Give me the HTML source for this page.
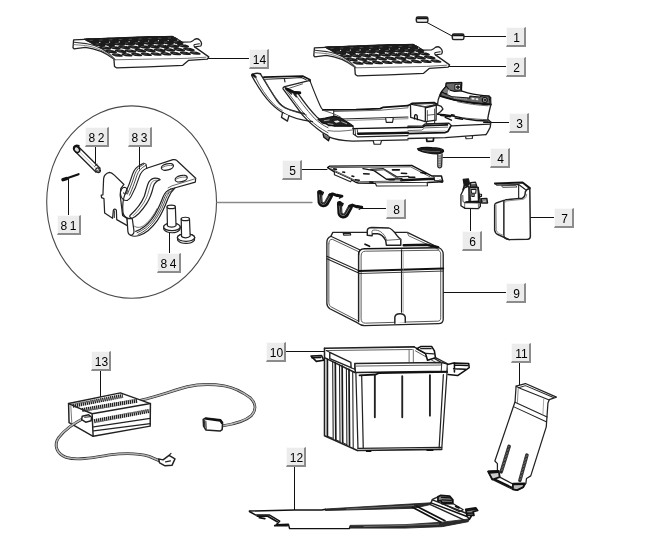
<!DOCTYPE html><html><head><meta charset="utf-8"><title>Parts diagram</title><style>

html,body{margin:0;padding:0;background:#fff}
#c{position:relative;width:645px;height:551px;overflow:hidden;background:#fff;font-family:"Liberation Sans",sans-serif}
svg{position:absolute;left:0;top:0}
.l{position:absolute;box-sizing:border-box;height:20px;background:#ececec;border-top:1px solid #fafafa;border-left:1px solid #fafafa;border-right:2px solid #8c8c8c;border-bottom:2px solid #8c8c8c;font-size:12px;line-height:21px;text-align:center;color:#000;padding-left:2px;will-change:transform}
.w{letter-spacing:2.4px;text-indent:2.4px;padding-left:0}

</style></head><body><div id="c">
<svg width="645" height="551" viewBox="0 0 645 551" fill="none" stroke="#2a2a2a" stroke-width="1" stroke-linecap="round" stroke-linejoin="round">
<g id="leaders" stroke="#111" stroke-width="1">
<ellipse cx="131.6" cy="202.1" rx="84.9" ry="96.2" stroke="#4a4a4a" stroke-width="1.1"/>
<path d="M217 202.5H312" stroke="#8a8a8a" stroke-width="1.3"/>
<path d="M427 22.5L452 36"/>
<path d="M464 36.5H506"/>
<path d="M449 66.5H506"/>
<path d="M485 122.5H509"/>
<path d="M443 157.5H490"/>
<path d="M302 169.5H327"/>
<path d="M470.5 207V231"/>
<path d="M529 217.5H554"/>
<path d="M361 208.5H386"/>
<path d="M443 292.5H506"/>
<path d="M286 351.5H326"/>
<path d="M519.5 363V385"/>
<path d="M294.5 467V510"/>
<path d="M100.5 371V397"/>
<path d="M208 58.5H249"/>
<path d="M68.5 179V215"/>
<path d="M95.5 147V164"/>
<path d="M139.5 147V169"/>
<path d="M169.5 226V253"/>
</g>
<defs><g id="grille">
<path d="M73.6 39.9 L73 47.8 L74 48.8 L85.4 47.4 C96 48.6 106 53 113.9 59.1 L114.5 66.4 L116.4 67.8 L148 66.8 L182.8 65.3 L188.4 60.4 L207.4 59.1 L208.8 56.9 L194.6 46.9 C197 46.6 199.8 46.4 200.8 46 C201.8 44.5 201.6 42 199.6 39.9 C198 38.6 196 38.6 194.6 39.4 C193.4 40.6 192 41.6 190.6 41.8 L182 42.2 C178 39.6 175 37.6 172.2 36.6 L148 36.6 Z" fill="#fff" stroke="#222" stroke-width="1.30"/>
<path d="M74.2 42.2 L86 43.6 C97 45.4 107 50 115 59.6" stroke="#333" stroke-width="1.06"/>
<path d="M74 44.6 L85.6 45.6 C96 47 106 51.6 114.2 59.4" stroke="#666" stroke-width="0.83"/>
<path d="M115 59.8 L186 58.4 L206 57.2" stroke="#555" stroke-width="0.83"/>
<path d="M194.6 46.9 C193.6 45.8 193.6 45 194.8 44.6 L199.4 43.8" stroke="#222" stroke-width="1.06"/>
<path d="M84.5 39.0 L172.5 36.4 L182.6 42.5 L94.7 44.9 Z" fill="#1c1c1c" stroke="#1c1c1c" stroke-width="1.18"/>
<g fill="#1c1c1c" stroke="none"><circle r="1" transform="matrix(6.36 -0.19 4.03 2.34 92.5 40.7)"/><circle r="1" transform="matrix(6.36 -0.19 4.03 2.34 102.3 40.4)"/><circle r="1" transform="matrix(6.36 -0.19 4.03 2.34 112.0 40.1)"/><circle r="1" transform="matrix(6.36 -0.19 4.03 2.34 121.8 39.8)"/><circle r="1" transform="matrix(6.36 -0.19 4.03 2.34 131.6 39.5)"/><circle r="1" transform="matrix(6.36 -0.19 4.03 2.34 141.3 39.2)"/><circle r="1" transform="matrix(6.36 -0.19 4.03 2.34 151.1 39.0)"/><circle r="1" transform="matrix(6.36 -0.19 4.03 2.34 160.9 38.7)"/><circle r="1" transform="matrix(6.36 -0.19 4.03 2.34 170.7 38.4)"/><circle r="1" transform="matrix(5.87 -0.17 3.72 2.16 98.7 44.3)"/><circle r="1" transform="matrix(5.87 -0.17 3.72 2.16 108.4 44.0)"/><circle r="1" transform="matrix(5.87 -0.17 3.72 2.16 118.2 43.7)"/><circle r="1" transform="matrix(5.87 -0.17 3.72 2.16 128.0 43.4)"/><circle r="1" transform="matrix(5.87 -0.17 3.72 2.16 137.7 43.2)"/><circle r="1" transform="matrix(5.87 -0.17 3.72 2.16 147.5 42.9)"/><circle r="1" transform="matrix(5.87 -0.17 3.72 2.16 157.2 42.6)"/><circle r="1" transform="matrix(5.87 -0.17 3.72 2.16 167.0 42.3)"/><circle r="1" transform="matrix(5.87 -0.17 3.72 2.16 176.8 42.1)"/><circle r="1" transform="matrix(5.28 -0.16 3.35 1.94 104.9 47.9)"/><circle r="1" transform="matrix(5.28 -0.16 3.35 1.94 114.6 47.6)"/><circle r="1" transform="matrix(5.28 -0.16 3.35 1.94 124.4 47.3)"/><circle r="1" transform="matrix(5.28 -0.16 3.35 1.94 134.1 47.1)"/><circle r="1" transform="matrix(5.28 -0.16 3.35 1.94 143.9 46.8)"/><circle r="1" transform="matrix(5.28 -0.16 3.35 1.94 153.6 46.5)"/><circle r="1" transform="matrix(5.28 -0.16 3.35 1.94 163.4 46.3)"/><circle r="1" transform="matrix(5.28 -0.16 3.35 1.94 173.1 46.0)"/><circle r="1" transform="matrix(5.28 -0.16 3.35 1.94 182.9 45.7)"/><circle r="1" transform="matrix(4.99 -0.15 3.16 1.84 111.1 51.5)"/><circle r="1" transform="matrix(4.99 -0.15 3.16 1.84 120.8 51.2)"/><circle r="1" transform="matrix(4.99 -0.15 3.16 1.84 130.5 51.0)"/><circle r="1" transform="matrix(4.99 -0.15 3.16 1.84 140.3 50.7)"/><circle r="1" transform="matrix(4.99 -0.15 3.16 1.84 150.0 50.4)"/><circle r="1" transform="matrix(4.99 -0.15 3.16 1.84 159.8 50.2)"/><circle r="1" transform="matrix(4.99 -0.15 3.16 1.84 169.5 49.9)"/><circle r="1" transform="matrix(4.99 -0.15 3.16 1.84 179.2 49.7)"/><circle r="1" transform="matrix(4.99 -0.15 3.16 1.84 189.0 49.4)"/><circle r="1" transform="matrix(4.79 -0.14 3.04 1.76 117.3 55.1)"/><circle r="1" transform="matrix(4.79 -0.14 3.04 1.76 127.0 54.8)"/><circle r="1" transform="matrix(4.79 -0.14 3.04 1.76 136.7 54.6)"/><circle r="1" transform="matrix(4.79 -0.14 3.04 1.76 146.4 54.3)"/><circle r="1" transform="matrix(4.79 -0.14 3.04 1.76 156.2 54.1)"/><circle r="1" transform="matrix(4.79 -0.14 3.04 1.76 165.9 53.8)"/><circle r="1" transform="matrix(4.79 -0.14 3.04 1.76 175.6 53.6)"/><circle r="1" transform="matrix(4.79 -0.14 3.04 1.76 185.4 53.3)"/><circle r="1" transform="matrix(4.79 -0.14 3.04 1.76 195.1 53.1)"/></g>
<g fill="#eee" stroke="none"><circle cx="99.8" cy="42.4" r="0.60"/><circle cx="109.6" cy="42.1" r="0.60"/><circle cx="119.3" cy="41.9" r="0.60"/><circle cx="129.1" cy="41.6" r="0.60"/><circle cx="138.9" cy="41.3" r="0.60"/><circle cx="148.6" cy="41.0" r="0.60"/><circle cx="158.4" cy="40.7" r="0.60"/><circle cx="168.2" cy="40.5" r="0.60"/><circle cx="177.9" cy="40.2" r="0.60"/><circle cx="106.0" cy="46.0" r="0.75"/><circle cx="115.8" cy="45.8" r="0.75"/><circle cx="125.5" cy="45.5" r="0.75"/><circle cx="135.3" cy="45.2" r="0.75"/><circle cx="145.0" cy="44.9" r="0.75"/><circle cx="154.8" cy="44.7" r="0.75"/><circle cx="164.5" cy="44.4" r="0.75"/><circle cx="174.3" cy="44.1" r="0.75"/><circle cx="184.0" cy="43.9" r="0.75"/></g>
<path d="M90.0 40.4 l2.4 -0.1 M99.8 40.1 l2.4 -0.1 M109.6 39.8 l2.4 -0.1 M119.3 39.5 l2.4 -0.1 M129.1 39.3 l2.4 -0.1 M138.9 39.0 l2.4 -0.1 M148.6 38.7 l2.4 -0.1 M158.4 38.4 l2.4 -0.1 M168.2 38.1 l2.4 -0.1 M96.2 44.0 l2.4 -0.1 M106.0 43.7 l2.4 -0.1 M115.7 43.4 l2.4 -0.1 M125.5 43.2 l2.4 -0.1 M135.3 42.9 l2.4 -0.1 M145.0 42.6 l2.4 -0.1 M154.8 42.3 l2.4 -0.1 M164.5 42.1 l2.4 -0.1 M174.3 41.8 l2.4 -0.1 M102.4 47.6 l2.4 -0.1 M112.2 47.3 l2.4 -0.1 M121.9 47.1 l2.4 -0.1 M131.7 46.8 l2.4 -0.1 M141.4 46.5 l2.4 -0.1 M151.2 46.3 l2.4 -0.1 M160.9 46.0 l2.4 -0.1 M170.7 45.7 l2.4 -0.1 M180.4 45.5 l2.4 -0.1 M108.6 51.2 l2.4 -0.1 M118.3 50.9 l2.4 -0.1 M128.1 50.7 l2.4 -0.1 M137.8 50.4 l2.4 -0.1 M147.6 50.2 l2.4 -0.1 M157.3 49.9 l2.4 -0.1 M167.0 49.7 l2.4 -0.1 M176.8 49.4 l2.4 -0.1 M186.5 49.1 l2.4 -0.1 M114.8 54.8 l2.4 -0.1 M124.5 54.6 l2.4 -0.1 M134.2 54.3 l2.4 -0.1 M144.0 54.1 l2.4 -0.1 M153.7 53.8 l2.4 -0.1 M163.4 53.6 l2.4 -0.1 M173.2 53.3 l2.4 -0.1 M182.9 53.1 l2.4 -0.1 M192.6 52.8 l2.4 -0.1" stroke="#555" stroke-width="0.83"/>
</g></defs>
<use href="#grille"/>
<use href="#grille" transform="translate(240.8 8)"/><g id="p1" stroke="#222">
<rect x="416.3" y="17" width="11.6" height="5.4" rx="1.6" fill="#bdbdbd" stroke-width="1.42"/>
<path d="M417.5 18.2H427" stroke="#111" stroke-width="1.65"/>
<path d="M418 20.6H426.5" stroke="#f4f4f4" stroke-width="1.42"/>
<rect x="452.3" y="34" width="11.6" height="5.6" rx="1.6" fill="#bdbdbd" stroke-width="1.42"/>
<path d="M453.5 35.2H463" stroke="#111" stroke-width="1.65"/>
<path d="M454 37.8H462.5" stroke="#f4f4f4" stroke-width="1.42"/>
</g>
<g id="p3a" transform="translate(248 68) scale(0.124031)" stroke="#222" stroke-width="9.44" fill="none">
<!-- far arm -->
<path d="M30 58 C50 40 80 40 100 46" stroke-width="11.80"/>
<path d="M36 52 L60 72" stroke-width="18.88" stroke="#111"/>
<path d="M30 62 C70 135 125 225 185 285 C215 315 250 345 285 362" stroke-width="10.62"/>
<path d="M58 70 C95 150 150 235 210 295 C235 318 255 333 275 342" stroke-width="7.08" stroke="#444"/>
<path d="M100 48 C135 105 175 175 230 258 C255 292 285 318 320 330 C350 340 380 350 405 356" stroke-width="10.62"/>
<path d="M122 72 C155 135 200 212 250 275 C270 298 290 315 310 324" stroke-width="7.08" stroke="#444"/>
<!-- back beam -->
<path d="M128 74 L440 64 L500 94 L502 108" stroke-width="12.98" stroke="#111"/>
<path d="M140 90 L295 84 L432 76 L470 96" stroke-width="8.26"/>
<path d="M294 92 L298 112" stroke-width="9.44"/>
<!-- near arm top line to back corner -->
<path d="M296 150 L500 100" stroke-width="10.62"/>
<path d="M318 168 L440 128" stroke-width="7.08" stroke="#444"/>
<!-- near arm -->
<path d="M300 150 C280 152 276 168 290 178 C330 232 385 305 440 380 C480 425 540 478 600 520 L645 545" stroke-width="10.62"/>
<path d="M315 188 C360 250 415 325 480 400 C530 450 585 490 645 522" stroke-width="7.08" stroke="#444"/>
<path d="M400 200 C440 258 495 335 560 400 C590 425 615 442 645 456" stroke-width="10.62"/>
<path d="M372 196 C410 255 470 335 535 405 C570 438 605 462 645 482" stroke-width="7.08" stroke="#444"/>
<!-- hinge dark details -->
<path d="M312 170 L350 188 M345 184 L385 204 M380 198 L418 200" stroke-width="23.60" stroke="#111"/><path d="M300 160 L318 170" stroke-width="11.80" stroke="#111"/>
<path d="M330 190 L350 210 M372 212 L390 232" stroke-width="11.80" stroke="#222"/>
<!-- wall panel right edge -->
<path d="M500 104 C525 170 555 245 580 300 C588 318 596 330 603 337" stroke-width="9.44"/>
<!-- far arm lower continuation -->
<path d="M285 362 C340 395 420 418 520 432" stroke-width="9.44"/>
<path d="M320 332 C370 352 420 365 470 378" stroke-width="7.08" stroke="#444"/>
<path d="M405 356 L455 368" stroke-width="9.44"/>
<!-- tab -->
<path d="M278 362 L270 398 L318 428 L330 384" stroke-width="10.62" fill="#fff"/>
<!-- floor start dark -->


</g>
<g id="p3b" transform="translate(328 82) scale(0.124031)" stroke="#222" stroke-width="9.44" fill="none">
<!-- back top edge -->
<path d="M-42 224 L226 222 L420 215 L442 205 L645 190" stroke-width="14.16" stroke="#111"/>
<path d="M50 238 L420 228 L645 208" stroke-width="7.08" stroke="#555"/>
<path d="M46 226 L46 272" stroke-width="8.26"/>
<path d="M-40 228 C0 240 60 260 100 282" stroke-width="7.08" stroke="#444"/>
<!-- middle lines -->
<path d="M110 298 L645 283" stroke-width="8.26"/>
<path d="M150 310 L645 296" stroke-width="5.90" stroke="#666"/>
<path d="M465 294 L470 326 L520 325 L526 292" stroke-width="9.44" fill="#fff"/>
<!-- near arm merging -->

<path d="M0 352 C60 350 150 346 198 352 L206 376" stroke-width="9.44"/>
<!-- dark mechanism -->
<path d="M-81 300 L-22 290 L53 275 L103 290 L183 340 L203 356 L53 356 L-47 330 Z" fill="#222" stroke="#111" stroke-width="9.44"/>
<path d="M40 312 L80 306 L104 324 L66 332 Z" fill="#eee" stroke="#111" stroke-width="5.90"/>
<path d="M-30 312 L10 306 M110 320 L150 336 M0 336 L40 342" stroke="#bbb" stroke-width="7.08"/>
<!-- front step & channel -->
<path d="M200 376 L645 366" stroke-width="11.80" stroke="#111"/>
<path d="M206 376 L204 420 L236 442 L645 432" stroke-width="9.44"/>
<path d="M236 384 L240 412 L645 404" stroke-width="7.08"/>
<path d="M242 418 L645 410" stroke-width="18.88" stroke="#111"/>
<path d="M218 382 L222 425" stroke-width="7.08"/>
<!-- lower edges -->
<path d="M0 392 C60 402 130 396 204 386" stroke-width="7.08" stroke="#555"/>
<path d="M0 440 C50 462 120 474 200 476 L645 466" stroke-width="10.62"/>
<path d="M-40 418 L-33 446 L4 474 L13 446" stroke-width="10.62" stroke="#111" fill="#777"/>
<path d="M365 474 L372 502 L424 501 L431 473" stroke-width="9.44" fill="#fff"/>
</g>
<g id="p3c" transform="translate(408 78) scale(0.124031)" stroke="#222" stroke-width="9.44" fill="none">
<!-- back top edge continuing into box -->
<path d="M0 222 L20 214" stroke-width="14.16" stroke="#111"/>
<!-- housing box -->
<path d="M20 214 L32 204 L210 198 L236 214 L140 240 Z" fill="#fff" stroke="#111" stroke-width="14.16"/>
<path d="M45 212 L200 206 L215 216 L140 230 Z" stroke="#333" stroke-width="7.08"/>
<path d="M20 216 L22 318 L140 352 L140 240" stroke-width="10.62" fill="#fff"/>
<path d="M140 352 L226 340 L228 218" stroke-width="10.62"/>
<path d="M156 262 L156 345 M214 250 L214 338 M156 300 L214 294" stroke-width="7.08" stroke="#444"/>
<path d="M52 330 L54 302 C58 292 70 292 74 304 L76 336" stroke-width="10.62" stroke="#111"/>
<path d="M150 352 L150 372 L215 366 L215 344" stroke-width="8.26"/>
<!-- curved wall left edge (lower) -->
<path d="M236 216 L268 228 L282 250 L262 272 L238 290" stroke-width="10.62"/>
<!-- upper arc outer -->
<path d="M256 140 C262 128 266 118 271 111 L308 66 L310 42 L432 36 L430 104 C460 114 495 124 526 130 C570 138 615 144 653 146 L666 160" stroke-width="11.80" stroke="#111"/>
<!-- bracket block -->
<path d="M308 42 L432 36 L430 104 L376 108 L301 89 Z" fill="#6a6a6a" stroke="#111" stroke-width="9.44"/>
<path d="M381 52 L424 50 L423 96 L381 96 Z" fill="#e8e8e8" stroke="#111" stroke-width="7.08"/>
<circle cx="402" cy="74" r="11" fill="#333" stroke="#111" stroke-width="7.08"/>
<path d="M271 111 L308 66 L330 92 L326 130 L296 126 Z" fill="#777" stroke="#111" stroke-width="8.26"/>
<path d="M330 98 L322 138" stroke="#eee" stroke-width="11.80"/>
<!-- dark band -->
<path d="M270 112 L300 128 L360 152 L496 162 L499 146 L578 153 L593 145 L653 146 L664 212 L526 201 L376 179 L263 145 Z" fill="#666" stroke="#111" stroke-width="8.26"/>
<path d="M263 146 C330 168 420 188 526 202 C580 208 620 212 668 214" stroke-width="15.34" stroke="#111"/>
<path d="M370 160 L480 172" stroke="#aaa" stroke-width="7.08" stroke-dasharray="8 8"/>
<path d="M512 160 L536 162 L536 176 L512 174 Z M546 164 L566 166 L566 180 L546 178 Z" fill="#eee" stroke="none"/>
<circle cx="619" cy="177" r="20" fill="#ddd" stroke="#111" stroke-width="9.44"/>
<circle cx="619" cy="177" r="8" fill="#444" stroke="#111" stroke-width="5.90"/>
<path d="M645 224 C560 220 480 208 400 192" stroke-width="7.08" stroke="#555"/>
<!-- curved wall left edge -->
<path d="M256 140 C246 160 240 185 238 214" stroke-width="10.62"/>
<!-- lower arc line -->
<path d="M240 292 C320 296 400 312 470 330 C530 342 590 346 645 346" stroke-width="11.80" stroke="#111"/>
<path d="M262 300 L340 312 L352 296 L372 300 M380 322 L440 332 M300 318 L350 340" stroke-width="11.80" stroke="#111"/>
<path d="M450 322 C520 330 580 334 645 336" stroke-width="7.08" stroke="#444"/>
<path d="M610 357 L668 357" stroke-width="11.80" stroke="#111"/>
<!-- front step -->
<path d="M0 388 L118 386 L140 370 L330 364 L352 386 L660 372" stroke-width="10.62"/>
<path d="M0 398 L120 396 L138 384 L318 378" stroke-width="14.16" stroke="#111"/>
<path d="M345 388 L322 430 L300 440 L0 448" stroke-width="14.16" stroke="#111"/>
<path d="M0 424 L110 420 L135 402 L320 396" stroke-width="7.08" stroke="#555"/>
<path d="M0 434 L300 428" stroke-width="5.90" stroke="#777"/>
<!-- bottom edge -->
<path d="M0 488 L300 480 L628 456" stroke-width="10.62"/>
<path d="M666 160 L668 214 C660 250 648 290 643 332 L668 357 L663 397 L640 440 L628 456" stroke-width="10.62"/>
<path d="M150 490 L152 510 L204 508 L206 488" stroke-width="14.16" stroke="#111"/>
<path d="M465 474 L468 490 L518 488 L520 470" stroke-width="9.44"/>
</g>
<g id="p5a" transform="translate(322 150) scale(0.124031)" stroke="#222" stroke-width="9.44" fill="none">
<!-- plate outline (F6 coords; F7 = F6 + (508,-80.6)) -->
<path d="M45 142 L62 130 L723 124 L888 210 L963 210 L973 250 L968 256 L848 262 L430 268 L292 266 C270 262 255 252 240 242 L100 176 Z" fill="#fff" stroke="#111" stroke-width="11.80"/>
<path d="M70 142 L715 136 L870 216" stroke-width="7.08" stroke="#444"/>
<path d="M72 152 L250 236 C268 248 285 254 300 256 L640 250" stroke-width="7.08" stroke="#444"/>
<!-- left flange -->
<path d="M100 178 L100 200 L230 256 L240 242" stroke-width="9.44" fill="#fff"/>
<!-- front flange -->
<path d="M430 268 L440 290 L850 288 L848 264" stroke-width="9.44" fill="#fff"/>
<!-- right-front dark band & box -->
<path d="M640 244 L900 232 L968 254" stroke-width="21.24" stroke="#111"/>
<path d="M903 212 L908 246 L968 250" stroke-width="9.44" fill="#fff"/>
<!-- inner channel -->
<path d="M330 150 L420 166 L520 236 L645 232" stroke-width="10.62" stroke="#111"/>
<path d="M392 156 L492 150 L604 216 L700 212" stroke-width="9.44"/>
<path d="M420 166 L500 160 L600 226" stroke-width="7.08" stroke="#444"/>
<path d="M508 160 L570 200 L640 242" stroke-width="7.08" stroke="#444"/>
<!-- marks -->
<path d="M95 152 L116 156 M168 178 L182 180 M242 210 L256 213 M268 240 L300 244 M336 192 L380 193 M572 160 L620 160 M540 240 L582 240 M568 160 L624 160 M640 188 L682 190 M700 220 L748 220 M798 182 L838 190 M385 258 L410 260" stroke-width="12.98" stroke="#111"/>
</g>
<g id="p4" transform="translate(385 140) scale(0.124031)" stroke="#222" stroke-width="9.44" fill="none">
<path d="M262 70 C290 60 330 58 380 62 C420 64 455 70 470 80 L472 94 C460 106 440 112 420 112 C370 112 310 98 270 82 Z" fill="#1c1c1c" stroke="#111" stroke-width="9.44"/>
<path d="M300 84 C340 92 390 96 440 92" stroke="#666" stroke-width="7.08"/>
<path d="M426 112 L426 214 C430 228 450 230 456 214 L460 112" fill="#fff" stroke="#222" stroke-width="10.62"/>
<path d="M438 120 L438 215 M448 120 L448 215" stroke="#777" stroke-width="5.90"/>
<path d="M428 130 L458 128 M428 150 L458 148 M428 170 L458 168 M428 190 L458 188 M428 208 L456 206" stroke="#555" stroke-width="4.72"/>
</g>
<defs><g id="clip" stroke-linecap="round" stroke-linejoin="round" fill="none">
<path d="M158 100 L162 178 C168 200 195 208 212 190 L246 128" stroke="#111" stroke-width="40.12"/>
<path d="M240 122 L262 112 L300 126 L338 130" stroke="#111" stroke-width="23.60"/>
<path d="M156 120 L164 182 C172 200 196 202 208 188 L240 134" stroke="#999" stroke-width="5.90"/>
<path d="M170 118 L176 176 C182 188 194 188 200 178 L228 128" stroke="#777" stroke-width="4.72"/>
<path d="M165 90 L188 100 L180 118" stroke="#111" stroke-width="11.80"/>
<path d="M300 116 L342 130 L318 146" stroke="#111" stroke-width="10.62"/>
</g></defs>
<g transform="translate(300 180) scale(0.124031)">
<use href="#clip"/>
<use href="#clip" transform="translate(160 90)"/>
</g>
<g id="p6" transform="translate(455 172) scale(0.078039)" stroke="#1a1a1a" stroke-width="15.34" fill="none">
<!-- top dark piece -->
<path d="M105 95 L172 88 L186 150 L150 185 L118 172 Z" fill="#1a1a1a"/>
<path d="M118 172 L100 230 L150 200" stroke-width="16.52" fill="#444"/>
<path d="M200 135 L262 130 L282 192 L196 196 Z" fill="#555" stroke-width="16.52"/>
<path d="M215 150 L255 148" stroke="#ddd" stroke-width="11.80"/>
<!-- left face -->
<path d="M76 292 L120 205 L178 182 L182 382 L130 392 L130 466 L76 432 Z" fill="#fff" stroke-width="16.52"/>
<path d="M100 300 L102 380 L130 392" stroke-width="11.80" stroke="#444"/>
<!-- front face -->
<path d="M184 200 L296 198 L302 376 L184 382 Z" fill="#fff" stroke-width="18.88"/>
<path d="M186 205 L198 375" stroke-width="21.24" stroke="#333"/>
<path d="M206 222 L270 220 L266 272 L212 272 Z" stroke-width="14.16"/>
<path d="M216 282 L246 282 L246 312 L216 312 Z" stroke-width="14.16"/>
<path d="M296 200 L320 350 L324 440" stroke-width="18.88"/>
<!-- base -->
<path d="M130 392 L320 386 L324 440 L300 470 L130 466" fill="#fff" stroke-width="16.52"/>
<path d="M130 392 L300 400 L300 468" stroke-width="10.62" stroke="#555"/>
<path d="M140 384 L300 378" stroke-width="18.88" stroke="#111"/>
<!-- right tabs -->
<path d="M306 286 L340 286 L340 312 L312 312" stroke-width="14.16"/>
<path d="M336 342 L408 340 L416 396 L342 396 Z" fill="#fff" stroke-width="18.88"/>
<path d="M356 362 L404 360 L406 384 L358 386 Z" stroke-width="10.62" stroke="#444"/>
</g>
<g id="p7" transform="translate(450 170) scale(0.139535)" stroke="#222" stroke-width="9.44" fill="none">
<!-- top flange -->
<path d="M322 96 L520 90 L572 130" stroke-width="14.16" stroke="#111"/>
<path d="M322 96 L335 108 L492 104 L540 140" stroke-width="8.26"/>
<path d="M372 112 L470 110 L480 122 L380 124 Z" stroke-width="7.08" stroke="#444"/>
<path d="M492 106 L492 200" stroke-width="8.26"/>
<!-- front face -->
<path d="M386 226 C386 218 390 215 398 214 L518 202 C530 198 536 190 538 174 L540 156 C544 142 556 134 572 132 L576 474 C576 488 570 495 556 496 L424 499 C400 497 386 486 386 470 Z" fill="#fff" stroke-width="10.62"/>
<path d="M396 230 C396 226 400 223 406 222 L524 210 C540 206 548 194 550 174" stroke-width="5.90" stroke="#777"/>
<!-- left side face -->
<path d="M386 218 L332 236 C324 239 320 244 320 252 L320 432 C322 450 332 458 346 464 L424 499" stroke-width="10.62"/>
<path d="M330 250 L332 428 C334 442 342 450 354 456 L386 470" stroke-width="5.90" stroke="#777"/>
</g>
<g id="p9" transform="translate(310 215) scale(0.248062)" stroke="#222" stroke-width="4.72" fill="none">
<!-- left side face -->
<path d="M68 110 C68 96 74 90 84 86 L92 70 L392 70 L520 132 C532 138 537 146 537 158 L537 420 C537 432 530 438 518 438 L220 446 C206 446 198 440 190 434 L80 378 C72 372 68 366 68 356 Z" fill="#fff" stroke-width="5.31"/>
<path d="M76 116 C76 104 80 98 90 98 L196 148" stroke-width="3.54" stroke="#444"/>
<path d="M76 116 L76 352 C76 362 80 368 88 372 L196 428" stroke-width="3.54" stroke="#444"/>
<path d="M84 86 L200 140" stroke-width="4.72"/>
<!-- side band -->
<path d="M68 166 L196 224 M68 176 L196 234" stroke-width="4.13"/>
<!-- front face outer -->
<path d="M196 160 C196 144 204 136 220 136 L516 132" stroke-width="5.90" stroke="#111"/>
<path d="M196 160 L196 430" stroke-width="5.90"/>
<path d="M206 164 C206 152 212 146 224 146 L512 142 C522 142 527 148 527 158 L527 414 C527 424 522 428 514 428 L224 436 C212 436 206 430 206 420 Z" stroke-width="3.54" stroke="#444"/>
<!-- band -->
<path d="M196 226 L537 216" stroke-width="8.26" stroke="#111"/>
<path d="M196 236 L537 226" stroke-width="3.54"/>
<!-- centre line -->
<path d="M369 140 L369 392" stroke-width="4.72"/>
<path d="M376 146 L376 392" stroke-width="2.36" stroke="#888"/>
<!-- arch -->
<path d="M342 436 L342 412 C344 394 380 392 384 412 L384 432" stroke-width="5.90" fill="#fff"/>
<!-- top details -->
<path d="M392 70 L398 84 L520 140" stroke-width="3.54" stroke="#555"/>
<path d="M378 122 L470 120 L516 130" stroke-width="10.62" stroke="#111"/>
<path d="M134 74 L162 73 L164 80 L136 81 Z" stroke-width="4.72"/>
<path d="M222 118 L240 126" stroke-width="7.08" stroke="#111"/>
<!-- handle -->
<path d="M231 82 L231 62 C232 52 240 50 250 50 L316 52 C330 54 340 68 350 82 C356 90 362 96 366 98 L366 122 L308 122 L305 102 C298 90 284 76 272 76 L252 76 L250 84 Z" fill="#fff" stroke-width="5.90"/>
<path d="M250 76 L250 64 C252 60 262 60 272 62 C290 66 304 84 308 100" stroke-width="3.54" stroke="#555"/>
<path d="M308 102 L366 98" stroke-width="3.54" stroke="#555"/>
</g>
<g id="p10" transform="translate(310 335) scale(0.263566)" stroke="#222" stroke-width="4.72" fill="none">
<!-- body silhouette -->
<path d="M55 50 L395 45 L500 105 L522 110 L520 150 L500 430 L180 436 L55 382 Z" fill="#fff" stroke="none"/>
<!-- rim back -->
<path d="M55 50 L395 45" stroke-width="5.90"/>
<path d="M62 59 L388 55" stroke-width="3.54" stroke="#555"/>
<path d="M376 56 L376 102 M392 56 L392 104" stroke-width="3.54" stroke="#666"/>
<!-- rim right -->
<path d="M395 45 L500 105" stroke-width="4.72"/>
<path d="M400 60 L498 116" stroke-width="3.54" stroke="#555"/>
<!-- rim left -->
<path d="M55 50 L55 86 L170 142" stroke-width="5.90"/>
<path d="M75 66 L155 104 L156 124 L75 90 Z" stroke-width="5.31" fill="#fff"/>
<path d="M62 59 L75 66" stroke-width="4.13"/>
<path d="M156 124 L170 130 L170 112" stroke-width="4.13"/>
<!-- front rim -->
<path d="M170 108 L500 104 L522 110 L520 138 L172 142 Z" fill="#fff" stroke-width="5.90"/>
<path d="M176 118 L498 114 L500 104" stroke-width="3.54" stroke="#555"/>
<path d="M188 153 L250 150 L262 144 L530 140" stroke-width="7.08" stroke="#111"/>
<path d="M500 106 L498 136" stroke-width="3.54"/>
<!-- front face -->
<path d="M174 142 L182 430 M196 152 L202 428" stroke-width="4.72"/>
<path d="M520 140 L500 430 M506 150 L490 428" stroke-width="4.72"/>
<path d="M182 430 L500 426" stroke-width="4.72"/>
<path d="M180 438 L500 434" stroke-width="5.90"/>
<path d="M215 440 L230 440 M445 437 L465 437" stroke-width="7.08" stroke="#111"/>
<!-- vertical lines on front -->
<path d="M246 152 L246 312 M350 156 L350 312 M455 152 L455 306" stroke-width="7.08" stroke="#222"/>
<!-- left ribs -->
<path d="M55 86 L55 382 L180 438" stroke-width="5.90"/>
<path d="M66 92 L66 384 M96 106 L98 398 M122 118 L124 408 M148 130 L150 420" stroke-width="6.49" stroke="#1a1a1a"/><path d="M86 102 L88 392 M112 114 L114 404 M138 126 L140 416 M162 138 L164 428" stroke-width="4.13"/>
<path d="M66 384 L88 392 M98 398 L114 404 M124 408 L140 416" stroke-width="3.54"/>
<!-- left clip -->
<path d="M4 80 L44 78 L52 96 L24 100 Z" fill="#fff" stroke-width="5.90" stroke="#111"/>
<path d="M8 86 L40 85" stroke-width="7.08" stroke="#111"/>
<!-- back-right clip -->
<path d="M405 52 L420 44 L462 44 L472 60 L476 86 L446 96 L438 70 Z" fill="#fff" stroke-width="5.90" stroke="#111"/>
<path d="M420 52 L460 52 M440 70 L470 72" stroke-width="4.72"/>
<!-- right clip -->
<path d="M522 112 L545 106 L602 108 L604 124 L592 132 L560 154 L524 150" fill="#fff" stroke-width="5.90" stroke="#111"/>
<path d="M548 114 L598 116 M545 128 L590 130 M548 106 L548 140" stroke-width="5.90" stroke="#111"/>
<path d="M476 86 L520 108" stroke-width="4.72"/>
</g>
<g id="p11" transform="translate(480 378) scale(0.212341)" stroke="#222" stroke-width="5.31" fill="none">
<path d="M170 38 L214 26 L360 90 L326 102 L320 118 L312 230 L239 461 L219 473 L216 496 L204 514 L175 528 L155 525 L58 478 L38 440 L82 437 L82 403 L70 391 L165 112 Z" fill="#fff" stroke-width="5.90"/>
<path d="M170 38 L182 46 L326 104 M182 46 L214 36 L346 92" stroke-width="4.72"/>
<path d="M165 114 L316 184 M160 136 L312 206" stroke-width="4.72"/>
<path d="M180 50 L176 116" stroke-width="3.54" stroke="#666"/>
<path d="M300 100 L296 176" stroke-width="3.54" stroke="#888"/>
<!-- slots -->
<path d="M137 322 L100 442 M221 363 L188 482" stroke-width="16.52" stroke="#2a2a2a"/>
<path d="M137 322 L100 442 M221 363 L188 482" stroke-width="10.62" stroke="#999" stroke-dasharray="2 5" stroke-linecap="butt"/>
<!-- left foot -->
<path d="M38 440 L88 437 L93 467 L58 478 Z" fill="#ccc" stroke-width="8.26" stroke="#111"/>
<path d="M46 446 L84 443" stroke-width="9.44" stroke="#111"/>
<!-- bottom strip -->
<path d="M93 467 L155 499" stroke-width="5.90"/>
<path d="M70 478 L150 516" stroke-width="9.44" stroke="#111"/>
<!-- right foot -->
<path d="M155 497 L210 496 L204 514 L175 528 L155 525 Z" fill="#bbb" stroke-width="8.26" stroke="#111"/>
<path d="M160 500 L206 499" stroke-width="9.44" stroke="#111"/>
</g>
<g id="p12" transform="translate(240 480) scale(0.248062)" stroke="#222" stroke-width="4.72" fill="none">
<!-- plate fill -->
<path d="M38 125 L345 118 L768 95 L925 160 L800 176 L445 188 L440 196 L200 196 L195 178 L150 180 L60 140 Z" fill="#fff" stroke="none"/>
<!-- back edge -->
<path d="M38 125 L220 121 L330 121 L345 118" stroke-width="5.90" stroke="#111"/>
<path d="M345 117 L770 92 L768 99 L700 114 L345 123 Z" fill="#2c2c2c" stroke="#222" stroke-width="3.54"/>
<path d="M430 117 L700 103" stroke="#999" stroke-width="2.36"/>
<!-- front-left steps -->
<path d="M38 127 L62 141 L118 141 L160 166 L146 180 L195 178 L200 196 L440 196 L445 187" stroke-width="5.90" stroke="#111"/>
<path d="M70 146 L112 146 L150 168 M78 152 L100 156 M140 184 L190 184" stroke-width="7.08" stroke="#111"/>
<!-- front edge wedge -->
<path d="M445 183 L665 180 L815 170 L925 157 L920 168 L815 188 L665 194 L445 194 Z" fill="#2c2c2c" stroke="#222" stroke-width="3.54"/>
<path d="M500 188 L800 178" stroke="#999" stroke-width="2.36"/>
<!-- diagonal brace -->
<path d="M695 110 L810 170 M712 106 L826 164" stroke-width="7.08" stroke="#111"/>
<!-- right end lip -->
<path d="M770 92 L915 147 L925 157" stroke-width="5.90" stroke="#111"/>
<path d="M776 80 L912 134 M768 99 L900 160" stroke-width="5.90"/>
<path d="M770 92 L776 78 L798 68" stroke-width="5.90"/>
<!-- clip 1 -->
<path d="M798 68 L808 62 L845 65 L858 80 L858 95 L815 95 L810 83 L798 85 Z" fill="#888" stroke-width="7.08" stroke="#111"/>
<path d="M812 70 L848 72 M814 80 L852 82 M816 90 L856 90" stroke-width="4.72" stroke="#111"/>
<path d="M815 95 L885 128 L900 120 L858 95" stroke-width="4.72"/>
<path d="M870 106 L882 112" stroke-width="8.26" stroke="#111"/>
<!-- clip 2 -->
<path d="M910 118 L950 112 L958 123 L940 128 L943 143 L915 143 Z" fill="#888" stroke-width="7.08" stroke="#111"/>
<path d="M914 123 L952 118 M916 134 L940 133" stroke-width="5.90" stroke="#111"/>
<path d="M925 157 L932 146" stroke-width="7.08" stroke="#111"/>
</g>
<g id="p13cab2" transform="translate(150 370) scale(0.186047)" fill="none">
<path d="M-110 172 C-60 168 -30 158 0 150 C70 132 130 108 200 90 C260 76 340 76 400 85 C450 94 500 120 540 150 C570 180 572 215 545 245 C520 268 470 288 390 300" stroke="#333" stroke-width="15.34"/>
<path d="M-110 172 C-60 168 -30 158 0 150 C70 132 130 108 200 90 C260 76 340 76 400 85 C450 94 500 120 540 150 C570 180 572 215 545 245 C520 268 470 288 390 300" stroke="#d8d8d8" stroke-width="7.08"/>
<path d="M-110 172 C-60 168 -30 158 0 150 C70 132 130 108 200 90 C260 76 340 76 400 85 C450 94 500 120 540 150 C570 180 572 215 545 245 C520 268 470 288 390 300" stroke="#666" stroke-width="1.77"/>
<path d="M286 266 L300 258 L380 268 L390 282 L388 320 L376 328 L300 322 L288 302 Z" fill="#fff" stroke="#222" stroke-width="8.26"/>
<path d="M300 262 L378 272 L386 284" stroke="#111" stroke-width="11.80"/>
<path d="M300 274 L302 320 M292 270 L294 304" stroke="#333" stroke-width="5.90"/>
</g>
<g id="p13" transform="translate(45 380) scale(0.248062)" stroke="#222" stroke-width="4.72" fill="none">
<!-- box -->
<path d="M95 95 L304 52 L425 95 L424 186 L194 227 L97 172 Z" fill="#fff" stroke-width="5.90"/>
<path d="M95 95 L190 136 L425 95 M190 136 L194 227" stroke-width="5.90"/>
<path d="M104 104 L108 172" stroke-width="3.54" stroke="#666"/>
<!-- top fins -->
<path d="M112 104 L314 64" stroke="#222" stroke-width="16.52" stroke-dasharray="5.5 2.6" stroke-linecap="butt"/>
<path d="M150 121 L372 83" stroke="#222" stroke-width="16.52" stroke-dasharray="5.5 2.6" stroke-linecap="butt"/>
<!-- right face band -->
<path d="M198 166 L422 124" stroke="#222" stroke-width="16.52" stroke-dasharray="5.5 2.6" stroke-linecap="butt"/>
<path d="M196 189 L424 155 M196 205 L424 176" stroke-width="4.72"/>
<!-- cable 1 -->
<path d="M160 152 C120 172 80 200 55 232 C35 262 45 295 85 312 C130 326 200 312 260 302 C320 294 380 296 420 308 L462 326" stroke="#333" stroke-width="11.80"/>
<path d="M160 152 C120 172 80 200 55 232 C35 262 45 295 85 312 C130 326 200 312 260 302 C320 294 380 296 420 308 L462 326" stroke="#d8d8d8" stroke-width="5.31"/>
<path d="M160 152 C120 172 80 200 55 232 C35 262 45 295 85 312 C130 326 200 312 260 302 C320 294 380 296 420 308 L462 326" stroke="#666" stroke-width="1.42"/>
<!-- connector end -->
<path d="M458 318 L476 322 L500 304 L524 318 L512 344 L484 346 L462 334 Z" fill="#fff" stroke-width="5.90"/>
<path d="M500 304 L508 296 M486 330 L506 326" stroke-width="4.72"/>
<!-- gland -->
<path d="M150 146 L176 140 L188 150 L186 164 L164 170 L148 160 Z" fill="#fff" stroke-width="5.90"/>
<path d="M160 150 L180 148" stroke-width="4.72"/>
</g>
<g id="p83" transform="translate(95 150) scale(0.172414)" stroke="#222" stroke-width="6.49" fill="none">
<!-- left back plate -->
<path d="M50 166 C52 148 62 136 84 130 C96 130 104 138 112 146 L168 200 L150 222 L146 260 L160 380 L186 398 L190 440 L126 404 L124 350 C120 340 108 342 106 352 L102 396 L56 366 L52 282 L38 276 L36 262 L46 260 Z" fill="#fff" stroke-width="7.08"/>
<path d="M112 352 L112 392" stroke-width="5.90"/>
<!-- top plate with holes -->
<path d="M300 106 L452 56 C462 54 470 56 476 62 L584 164 L582 186 L440 226 L420 236 L372 168 Z" fill="#fff" stroke="none"/><path d="M300 106 L452 56 C462 54 470 56 476 62 L584 164 L582 186 L440 226" stroke-width="7.08"/>
<path d="M584 166 L446 208 L424 220" stroke-width="4.72" stroke="#444"/>
<ellipse cx="420" cy="98" rx="36" ry="18" transform="rotate(-14 420 98)" stroke-width="7.08"/>
<path d="M388 104 C400 92 436 84 452 92" stroke-width="4.72" stroke="#555"/>
<ellipse cx="500" cy="166" rx="36" ry="18" transform="rotate(-14 500 166)" stroke-width="7.08"/>
<path d="M468 172 C480 160 516 152 532 160" stroke-width="4.72" stroke="#555"/>
<!-- left spring band (multi-lines) -->
<path d="M268 84 C240 96 228 112 218 140 C206 180 190 220 176 250 C164 280 158 320 162 360 C164 380 176 392 196 398" stroke-width="7.08"/>
<path d="M282 84 C254 98 240 116 230 144 C218 184 202 224 188 256" stroke-width="4.72"/>
<path d="M294 90 C266 104 252 122 242 150 C230 190 214 230 200 262" stroke-width="4.72"/>
<path d="M300 106 C276 116 264 132 256 158 C244 196 228 236 210 268 C204 280 196 288 188 292" stroke-width="5.90"/>
<path d="M268 84 L282 76 L296 82 L300 106" stroke-width="5.90"/>
<!-- curl -->
<path d="M188 292 C168 296 150 280 148 256 C146 232 158 216 172 216 C186 218 190 234 184 248 C178 258 168 258 166 248" stroke-width="6.49"/>
<!-- centre slot arm -->
<path d="M374 168 C350 158 326 164 312 186 C300 210 296 240 286 268 C270 306 240 346 204 378 C198 386 204 396 216 396 C240 386 274 350 300 310 C324 272 332 240 338 214 C344 192 356 178 378 172" stroke-width="7.08" fill="#fff"/>
<path d="M362 176 C344 172 332 180 324 198 C314 224 310 250 298 278 C282 314 252 352 222 380" stroke-width="4.72" stroke="#555"/>
<!-- right band -->
<path d="M440 226 C416 234 404 248 394 274 C378 316 360 360 330 400 C304 434 270 462 236 472" stroke-width="7.08"/>
<path d="M430 240 C416 250 408 262 400 284 C384 326 366 368 338 406 C312 440 280 466 244 480" stroke-width="4.72"/>
<path d="M452 226 C432 240 422 256 412 280 C398 318 380 362 350 404 C322 444 288 474 250 490" stroke-width="4.72"/>
<path d="M462 222 C444 238 434 254 424 280 C408 322 392 364 362 408 C334 448 298 482 256 496 C236 502 216 500 206 494" stroke-width="7.08"/>
<!-- front vertical piece -->
<path d="M186 398 L216 396 L226 470 C228 484 216 496 206 494 C196 490 190 478 190 462 Z" fill="#fff" stroke-width="7.08"/>
<path d="M226 440 C240 452 260 452 280 440 C310 420 340 380 360 340" stroke-width="4.72" stroke="#555"/>
</g>
<g id="p84" transform="translate(95 150) scale(0.172414)" stroke="#222" stroke-width="6.49" fill="none">
<!-- screw 1 -->
<ellipse cx="446" cy="446" rx="48" ry="22" fill="#fff" stroke-width="7.08"/>
<path d="M398 446 L400 462 C420 486 474 486 492 462 L494 446" fill="#fff" stroke-width="7.08"/>
<ellipse cx="446" cy="446" rx="48" ry="22" fill="#fff" stroke-width="7.08"/>
<path d="M418 330 L420 440 C430 450 460 450 470 438 L466 330" fill="#fff" stroke-width="7.08"/>
<ellipse cx="442" cy="330" rx="24" ry="10" fill="#fff" stroke-width="7.08"/>
<!-- screw 2 -->
<ellipse cx="528" cy="508" rx="50" ry="22" fill="#fff" stroke-width="7.08"/>
<path d="M478 508 L480 524 C500 548 556 548 576 524 L578 508" fill="#fff" stroke-width="7.08"/>
<ellipse cx="528" cy="508" rx="50" ry="22" fill="#fff" stroke-width="7.08"/>
<path d="M500 400 L502 502 C512 512 542 512 552 500 L548 400" fill="#fff" stroke-width="7.08"/>
<ellipse cx="524" cy="400" rx="24" ry="10" fill="#fff" stroke-width="7.08"/>
</g>
<g id="p82" transform="translate(46 117.2) scale(0.248062)" stroke="#222" stroke-width="4.72" fill="none">
<path d="M118 138 L202 222 M134 122 L218 206" stroke-width="5.31"/>
<path d="M126 130 L208 212" stroke="#bbb" stroke-width="3.54"/>
<ellipse cx="124" cy="130" rx="13" ry="10" transform="rotate(45 124 130)" fill="#ddd" stroke-width="5.90" stroke="#111"/>
<path d="M112 126 C112 116 122 112 132 116" stroke="#111" stroke-width="8.26"/>
<ellipse cx="210" cy="214" rx="10" ry="8" transform="rotate(45 210 214)" fill="#fff" stroke-width="4.72"/>
<circle cx="212" cy="216" r="4" stroke-width="3.54"/>
<path d="M196 198 L206 190" stroke-width="3.54"/>
</g>
<g id="p81" stroke="#111" fill="none">
<path d="M63.4 179.6 L78.6 174.2" stroke-width="2.12"/>
<path d="M63 179.6 L66.5 178.6" stroke-width="3.54"/>
</g>

</svg>
<div class="l" style="left:506px;top:27px;width:20px">1</div>
<div class="l" style="left:506px;top:57px;width:20px">2</div>
<div class="l" style="left:509px;top:113px;width:20px">3</div>
<div class="l" style="left:490px;top:148px;width:20px">4</div>
<div class="l" style="left:282px;top:160px;width:20px">5</div>
<div class="l" style="left:462px;top:231px;width:20px">6</div>
<div class="l" style="left:554px;top:208px;width:20px">7</div>
<div class="l" style="left:386px;top:199px;width:20px">8</div>
<div class="l" style="left:506px;top:283px;width:20px">9</div>
<div class="l" style="left:266px;top:342px;width:20px">10</div>
<div class="l" style="left:511px;top:343px;width:20px">11</div>
<div class="l" style="left:286px;top:447px;width:20px">12</div>
<div class="l" style="left:91px;top:351px;width:20px">13</div>
<div class="l" style="left:249px;top:49px;width:20px">14</div>
<div class="l w" style="left:57px;top:215px;width:24px">81</div>
<div class="l w" style="left:85px;top:127px;width:24px">82</div>
<div class="l w" style="left:128px;top:127px;width:24px">83</div>
<div class="l w" style="left:157px;top:253px;width:24px">84</div>
</div></body></html>
